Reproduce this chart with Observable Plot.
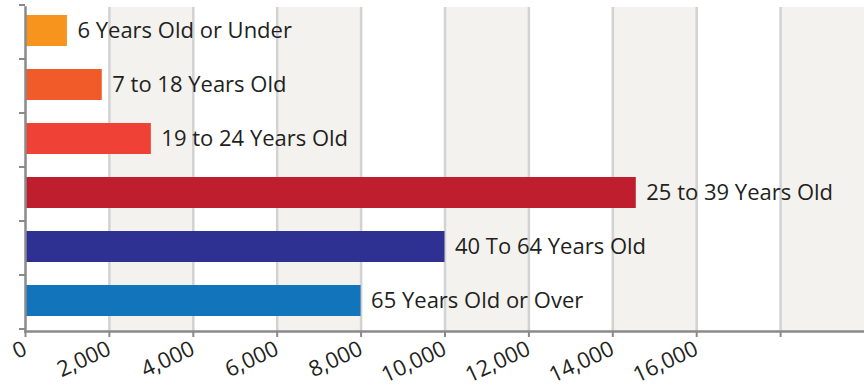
<!DOCTYPE html>
<html>
<head>
<meta charset="utf-8">
<script src="https://cdn.jsdelivr.net/npm/d3@7"></script>
<script src="https://cdn.jsdelivr.net/npm/@observablehq/plot@0.6"></script>
<style>
  html, body { margin: 0; padding: 0; background: #fff; }
  svg { display: block; }
</style>
</head>
<body>
<div id="chart"></div>
<script>
const categories = [
  "6 Years Old or Under",
  "7 to 18 Years Old",
  "19 to 24 Years Old",
  "25 to 39 Years Old",
  "40 To 64 Years Old",
  "65 Years Old or Over"
];
const values = [1000, 1830, 3000, 14560, 10000, 8000];
const colors = ["#f7941d", "#f15a29", "#ef4136", "#be1e2d", "#2e3192", "#1275bc"];
const tickValues = [0, 2000, 4000, 6000, 8000, 10000, 12000, 14000, 16000, 18000];
const labeledTicks = [0, 2000, 4000, 6000, 8000, 10000, 12000, 14000, 16000];
const bandStarts = [2000, 6000, 10000, 14000, 18000];
const bandWidth = 2000;

const data = categories.map((c, i) => ({label: c, value: values[i], color: colors[i]}));
const bands = bandStarts.map(s => ({x1: s, x2: s + bandWidth}));

const M = {marginLeft: 25, marginRight: 0, marginTop: 7, marginBottom: 56};

const chart = Plot.plot({
  width: 864,
  height: 387,
  ...M,
  style: {fontFamily: "'Open Sans', sans-serif", background: "#fff"},
  x: {domain: [0, 20000], axis: null},
  y: {domain: categories, paddingInner: 0.43, paddingOuter: 0.215, align: 0.35, axis: null},
  marks: [
    Plot.rect(bands, {x1: "x1", x2: "x2", fill: "#f3f2ee"}),
    Plot.ruleX(tickValues.slice(1), {stroke: "#d2d2d2", strokeWidth: 2.5}),
    Plot.barX(data, {x: "value", y: "label", fill: "color"}),
    Plot.text(data, {
      x: "value", y: "label", text: "label",
      textAnchor: "start", dx: 10, fontSize: 22, fill: "#231f20"
    }),
    Plot.axisX(tickValues, {
      ...M,
      anchor: "bottom",
      label: null,
      tickSize: 6,
      stroke: "#8a8a8a",
      strokeWidth: 2,
      tickFormat: d => labeledTicks.includes(d) ? d3.format(",")(d) : "",
      tickRotate: -25,
      fontSize: 22,
      fill: "#231f20",
      tickPadding: 10
    }),
    Plot.axisY(categories, {...M, anchor: "left", label: null, tickSize: 6, stroke: "#8a8a8a", strokeWidth: 2, tickFormat: () => "", dy: -26}),
    Plot.axisY([categories[categories.length - 1]], {...M, anchor: "left", label: null, tickSize: 6, stroke: "#8a8a8a", strokeWidth: 2, tickFormat: () => "", dy: 28}),
    Plot.frame({anchor: "bottom", stroke: "#8a8a8a", strokeWidth: 2.5}),
    Plot.frame({anchor: "left", stroke: "#8a8a8a", strokeWidth: 2.5})
  ]
});
document.getElementById("chart").appendChild(chart);
</script>
</body>
</html>
